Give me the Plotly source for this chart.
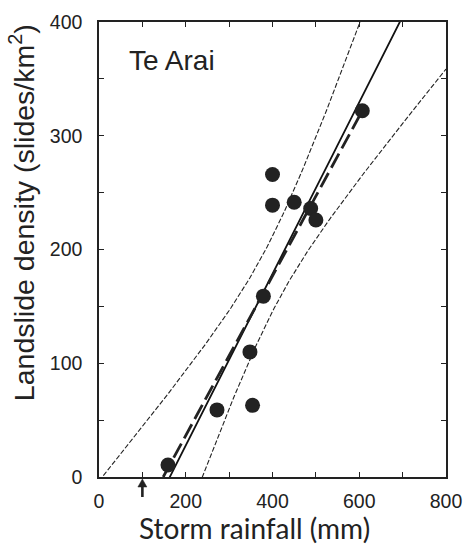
import numpy as np
import plotly.graph_objects as go

# Observed storms (Te Arai)
rainfall_mm = [159, 272, 348, 354, 379, 400, 400, 450, 488, 500, 607]
landslide_density = [10.5, 59, 110, 63, 159, 266, 239, 241.5, 236, 226, 322]

# Alternative (dashed) fit line end points
alt_fit_x = [148, 607]
alt_fit_y = [0, 322]

# Threshold arrow position (mm)
threshold_mm = 100

x_range = [0, 800]
y_range = [0, 400]
t_crit = 2.262  # t(0.975, df=9)

x = np.array(rainfall_mm, dtype=float)
y = np.array(landslide_density, dtype=float)
n = len(x)
xm, ym = x.mean(), y.mean()
sxx = ((x - xm) ** 2).sum()
slope = ((x - xm) * (y - ym)).sum() / sxx
icpt = ym - slope * xm
resid = y - (icpt + slope * x)
s = np.sqrt((resid ** 2).sum() / (n - 2))

xs = np.linspace(x_range[0], x_range[1], 201)
yfit = icpt + slope * xs
half = t_crit * s * np.sqrt(1 / n + (xs - xm) ** 2 / sxx)

fig = go.Figure()
fig.add_trace(go.Scatter(x=xs, y=yfit + half, mode="lines",
                         line=dict(color="#222", width=1.1, dash="5px,2px"), hoverinfo="skip"))
fig.add_trace(go.Scatter(x=xs, y=yfit - half, mode="lines",
                         line=dict(color="#222", width=1.1, dash="5px,2px"), hoverinfo="skip"))
fig.add_trace(go.Scatter(x=xs, y=yfit, mode="lines",
                         line=dict(color="#111", width=1.8), hoverinfo="skip"))
fig.add_trace(go.Scatter(x=alt_fit_x, y=alt_fit_y, mode="lines",
                         line=dict(color="#222", width=2.8, dash="16px,6px"), hoverinfo="skip"))
fig.add_trace(go.Scatter(x=rainfall_mm, y=landslide_density, mode="markers",
                         marker=dict(size=15, color="#222"), cliponaxis=False))

# threshold arrow below the x axis (paper-referenced shapes so they are not clipped)
plot_w, plot_h = 347, 455
xp = (threshold_mm - x_range[0]) / (x_range[1] - x_range[0])
hw = 4.5 / plot_w
tip, head_base, tail = -2 / plot_h, -10 / plot_h, -20 / plot_h
fig.add_shape(type="line", xref="paper", yref="paper", x0=xp, x1=xp, y0=head_base + 1 / plot_h, y1=tail,
              line=dict(color="#222", width=2.6))
fig.add_shape(type="path", xref="paper", yref="paper",
              path=f"M {xp - hw} {head_base} L {xp} {tip} L {xp + hw} {head_base} Z",
              fillcolor="#222", line=dict(color="#222", width=0.5))

fig.add_annotation(x=64, y=366, xref="x", yref="y", text="Te Arai", showarrow=False,
                   xanchor="left", yanchor="middle",
                   font=dict(family="Liberation Sans, Arial", size=28, color="#222"))
# axis titles
fig.add_annotation(x=-0.222, y=0.582, xref="paper", yref="paper",
                   text="Landslide density (slides/km<sup>2</sup>)", showarrow=False,
                   textangle=-90, xanchor="center", yanchor="middle",
                   font=dict(family="Liberation Sans, Arial", size=28.5, color="#222"))
fig.add_annotation(x=0.447, y=-0.112, xref="paper", yref="paper",
                   text="Storm rainfall (mm)", showarrow=False,
                   xanchor="center", yanchor="middle",
                   font=dict(family="Lato, Open Sans", size=28, color="#222"))

axis_common = dict(showgrid=False, zeroline=False, showline=True, linecolor="#222", linewidth=1.5,
                   mirror="ticks", ticks="inside", ticklen=5, tickcolor="#222", tickwidth=1,
                   automargin=False,
                   tickfont=dict(family="Liberation Sans, Arial", size=19.5, color="#222"))

fig.update_layout(
    width=465, height=550,
    margin=dict(l=99, r=19, t=22, b=73),
    paper_bgcolor="white", plot_bgcolor="white",
    showlegend=False,
    xaxis=dict(range=x_range, tick0=0, dtick=200, ticklabelstandoff=6,
               minor=dict(ticks="inside", dtick=100, ticklen=5, tickcolor="#222"),
               **axis_common),
    yaxis=dict(range=y_range, tick0=0, dtick=100, ticklabelstandoff=11,
               minor=dict(ticks="inside", dtick=50, ticklen=5, tickcolor="#222"),
               **axis_common),
)

fig.write_html("out.html", config={"displayModeBar": False},
               post_script="document.body.style.margin='0px';document.body.style.overflow='hidden';")
